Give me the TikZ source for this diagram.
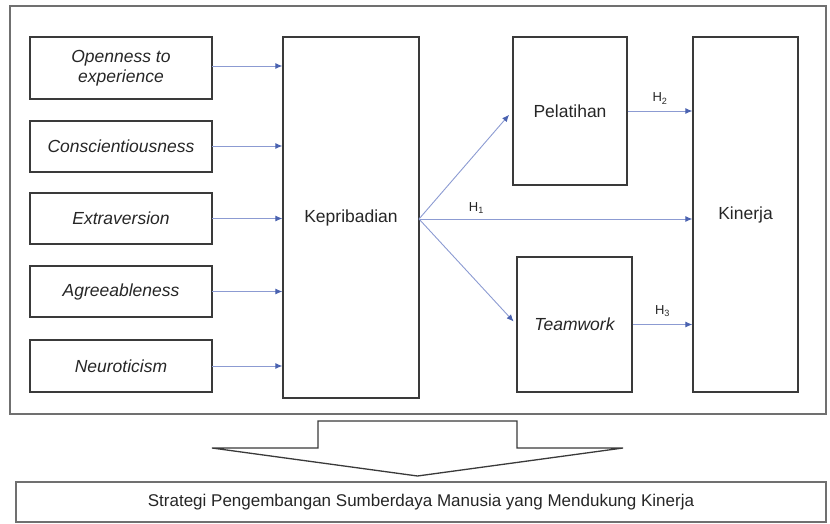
\documentclass[tikz,border=0pt]{standalone}
\usepackage{fontspec}
\setmainfont{Liberation Sans}
\usetikzlibrary{arrows.meta}
\definecolor{boxline}{HTML}{3A3A3A}
\definecolor{frameline}{HTML}{707070}
\definecolor{arrline}{HTML}{8C9BD2}
\definecolor{arrhead}{HTML}{4A62B0}
\begin{document}
\begin{tikzpicture}[x=1pt,y=-1pt,
  every node/.style={font=\fontsize{17.5}{21}\selectfont, text=black!85},
  box/.style={draw=boxline, line width=1.3pt, rectangle, inner sep=0pt, align=center},
  link/.style={draw=arrline, line width=0.9pt, -{Latex[length=7pt,width=6pt,color=arrhead]}},
  hlab/.style={font=\fontsize{13}{15}\selectfont},
  frame/.style={draw=frameline, line width=1.6pt}]
\useasboundingbox (0,0) rectangle (830,524);
% outer frame
\draw[frame] (10,6) rectangle (826,414);
% left boxes
\node[box, minimum width=182pt, minimum height=62pt] (b1) at (121,68) {\itshape Openness to\\[-1pt]\itshape experience};
\node[box, minimum width=182pt, minimum height=51pt] (b2) at (121,146.5) {\itshape Conscientiousness};
\node[box, minimum width=182pt, minimum height=51pt] (b3) at (121,218.5) {\itshape Extraversion};
\node[box, minimum width=182pt, minimum height=51pt] (b4) at (121,291.5) {\itshape Agreeableness};
\node[box, minimum width=182pt, minimum height=52pt] (b5) at (121,366) {\itshape Neuroticism};
% middle
\node[box, minimum width=136pt, minimum height=361pt] (kep) at (351,217.5) {Kepribadian};
\node[box, minimum width=114pt, minimum height=148pt] (pel) at (570,111) {Pelatihan};
\node[box, minimum width=115pt, minimum height=135pt] (tw) at (574.5,324.5) {\itshape Teamwork};
\node[box, minimum width=105pt, minimum height=355pt] (kin) at (745.5,214.5) {Kinerja};
% arrows from left boxes
\foreach \b/\yy in {b1/66,b2/146,b3/218.5,b4/291.5,b5/366}{
  \coordinate (s\b) at (212,\yy);
  \draw[link] (s\b) -- (s\b -| kep.west);
}
% arrows from Kepribadian
\coordinate (ko) at (419,219);
\draw[link, shorten >=5pt] (ko) -- (pel.west);
\draw[link, shorten >=4pt] (ko) -- (tw.west);
\draw[link] (ko) -- (ko -| kin.west) node[hlab, pos=0.21, above=2pt] {H\textsubscript{1}};
\draw[link] (pel.east) -- (pel.east -| kin.west) node[hlab, midway, above=3pt] {H\textsubscript{2}};
\draw[link] (tw.east) -- (tw.east -| kin.west) node[hlab, midway, above=4pt] {H\textsubscript{3}};
% big arrow
\draw[draw=boxline, line width=1.3pt, fill=white] (318,421) -- (517,421) -- (517,448) -- (623,448) -- (417.5,476) -- (212,448) -- (318,448) -- cycle;
% bottom box
\node[draw=frameline, line width=1.4pt, minimum width=810pt, minimum height=40pt, inner sep=0pt, font=\fontsize{17}{20}\selectfont] (strat) at (421,502) {Strategi Pengembangan Sumberdaya Manusia yang Mendukung Kinerja};
\end{tikzpicture}
\end{document}
